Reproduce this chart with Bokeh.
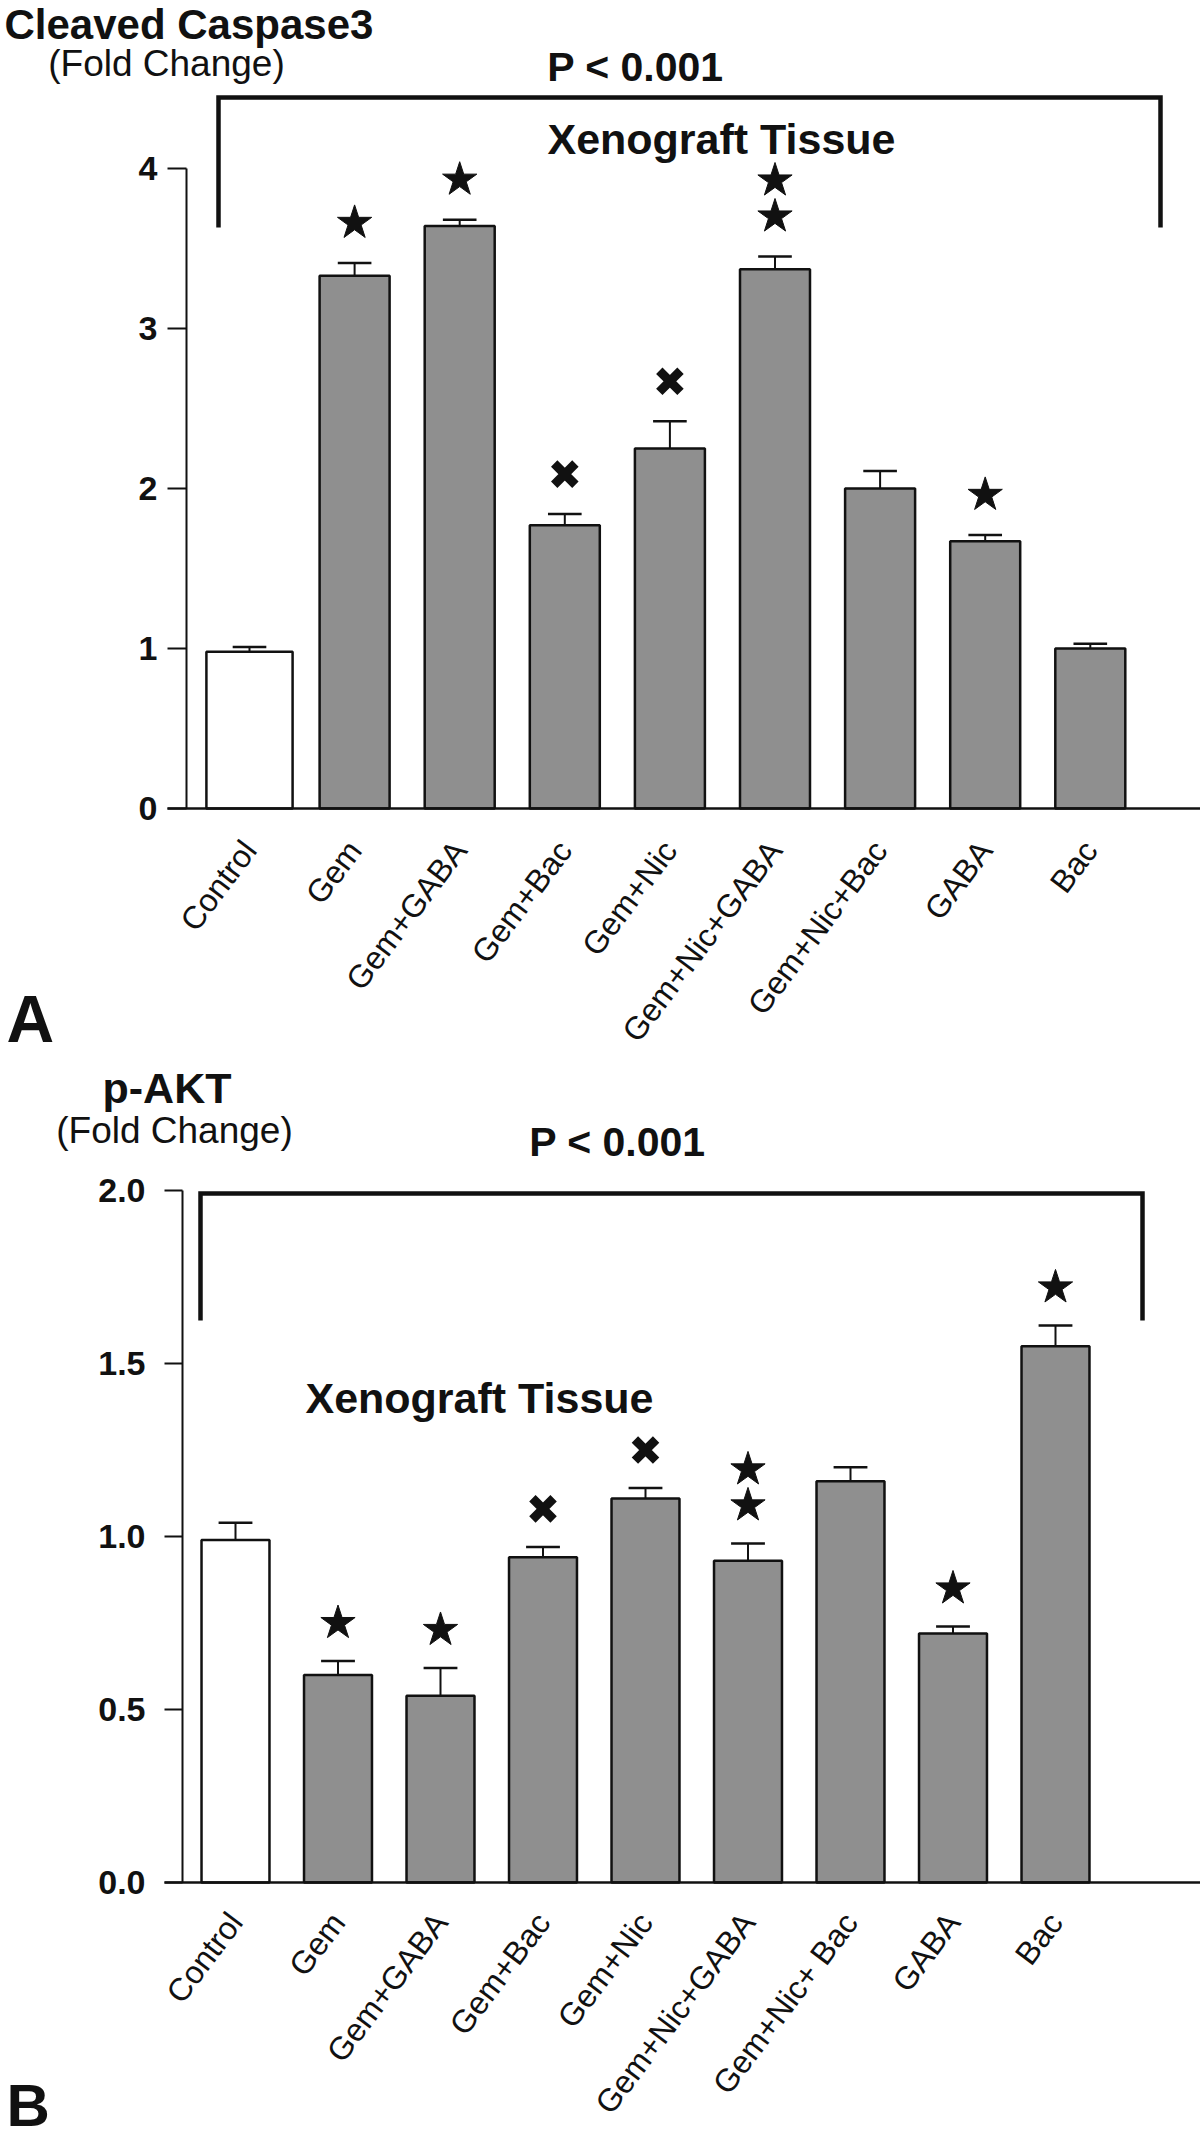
from bokeh.plotting import figure
from bokeh.models import Range1d, FixedTicker, Label, ColumnDataSource, PrintfTickFormatter
from bokeh.layouts import column
from bokeh.embed import file_html
from bokeh.resources import INLINE

# ---------------- data ----------------
categories_a = ["Control", "Gem", "Gem+GABA", "Gem+Bac", "Gem+Nic",
                "Gem+Nic+GABA", "Gem+Nic+Bac", "GABA", "Bac"]
categories_b = ["Control", "Gem", "Gem+GABA", "Gem+Bac", "Gem+Nic",
                "Gem+Nic+GABA", "Gem+Nic+ Bac", "GABA", "Bac"]

caspase3_mean = [0.98, 3.33, 3.64, 1.77, 2.25, 3.37, 2.00, 1.67, 1.00]
caspase3_err = [0.03, 0.08, 0.04, 0.07, 0.17, 0.08, 0.11, 0.04, 0.03]
caspase3_marks = ["", "star", "star", "cross", "cross", "star2", "", "star", ""]

pakt_mean = [0.99, 0.60, 0.54, 0.94, 1.11, 0.93, 1.16, 0.72, 1.55]
pakt_err = [0.05, 0.04, 0.08, 0.03, 0.03, 0.05, 0.04, 0.02, 0.06]
pakt_marks = ["", "star", "star", "cross", "cross", "star2", "", "star", "star"]

yticks_a = [0, 1, 2, 3, 4]
yticks_b = [0.0, 0.5, 1.0, 1.5, 2.0]

# ---------------- style ----------------
FONT = "Liberation Sans"
GRAY = "#8f8f8f"
INK = "#111111"
W = 1200
TEXT_SHIFT = 0.32   # empirical correction of the label baseline (in em)


def make_panel(cats, means, errs, marks, yticks, fmt, g, texts):
    H = g["H"]
    fl, fb, c0 = g["fl"], g["fb"], g["c0"]
    ppx, ppy = g["ppx"], g["ppy"]
    top_page = g["top"]

    def dx(page_x):
        return (page_x - c0) / ppx

    def dy(page_y):
        return (fb - (page_y - top_page)) / ppy

    x_start, x_end = -c0 / ppx, (W - c0) / ppx
    y_start, y_end = (fb - H) / ppy, fb / ppy

    p = figure(width=W, height=H, x_range=Range1d(x_start, x_end),
               y_range=Range1d(y_start, y_end), output_backend="svg",
               toolbar_location=None, min_border=0, min_border_left=0,
               min_border_right=0, min_border_top=0, min_border_bottom=0)
    p.outline_line_color = None
    p.xgrid.visible = False
    p.ygrid.visible = False
    p.background_fill_color = "white"
    p.border_fill_color = "white"

    idx = list(range(len(cats)))
    widths = [g["ctrl_w"] if i == 0 else g["bar_w"] for i in idx]
    fills = ["white" if i == 0 else GRAY for i in idx]
    tops = [m + e for m, e in zip(means, errs)]
    src = ColumnDataSource(dict(x=idx, top=means, w=widths, fill=fills,
                                err=tops,
                                cl=[i - g["cap"] / 2 for i in idx],
                                cr=[i + g["cap"] / 2 for i in idx]))

    p.segment(x0="x", y0="top", x1="x", y1="err", source=src,
              line_color=INK, line_width=2)
    p.segment(x0="cl", y0="err", x1="cr", y1="err", source=src,
              line_color=INK, line_width=2.5)
    p.vbar(x="x", top="top", width="w", bottom=0, source=src,
           fill_color="fill", line_color=INK, line_width=2.5)

    # significance markers
    off = g["mark_off"] / ppy
    step = 36 / ppy
    sx, sy, cx, cy = [], [], [], []
    for i, (mk, t) in enumerate(zip(marks, tops)):
        if mk == "star":
            sx.append(i); sy.append(t + off)
        elif mk == "star2":
            sx += [i, i]; sy += [t + off, t + off + step]
        elif mk == "cross":
            cx.append(i); cy.append(t + off)
    p.scatter(sx, sy, marker="star", size=36, fill_color=INK, line_color=INK)
    p.scatter(cx, cy, marker="x", size=30, line_color=INK, line_width=9)

    # bracket
    bx0, bx1 = dx(g["br_l"]), dx(g["br_r"])
    by0, by1 = dy(g["br_top"]), dy(g["br_bot"])
    p.line([bx0, bx0, bx1, bx1], [by1, by0, by0, by1], line_color=INK,
           line_width=4.5, line_join="miter")

    # x axis (fixed at y = 0)
    p.xaxis.fixed_location = 0
    p.xaxis.bounds = (dx(g["base_l"]), x_end)
    p.xaxis.ticker = FixedTicker(ticks=idx)
    p.xaxis.major_label_overrides = {i: c for i, c in enumerate(cats)}
    p.xaxis.major_label_orientation = g["angle"]
    p.xaxis.major_tick_line_color = None
    p.xaxis.minor_tick_line_color = None
    p.xaxis.axis_line_width = 2.5
    p.xaxis.axis_line_color = INK
    p.xaxis.major_label_text_font = FONT
    p.xaxis.major_label_text_font_size = g["cat_fs"]
    p.xaxis.major_label_text_color = INK
    p.xaxis.major_label_standoff = g["cat_standoff"]

    # y axis
    p.yaxis.fixed_location = dx(fl)
    p.yaxis.ticker = FixedTicker(ticks=yticks)
    p.yaxis.formatter = PrintfTickFormatter(format=fmt)
    p.yaxis.bounds = (yticks[0], yticks[-1])
    p.yaxis.major_tick_out = g["tick_out"]
    p.yaxis.major_tick_in = 0
    p.yaxis.minor_tick_line_color = None
    p.yaxis.axis_line_width = 2
    p.yaxis.major_tick_line_width = 2
    p.yaxis.axis_line_color = INK
    p.yaxis.major_tick_line_color = INK
    p.yaxis.major_label_text_font = FONT
    p.yaxis.major_label_text_font_style = "bold"
    p.yaxis.major_label_text_font_size = "34px"
    p.yaxis.major_label_text_color = INK
    p.yaxis.major_label_standoff = g["ystandoff"]

    for (txt, px, py, fs, style, align) in texts:
        p.add_layout(Label(x=dx(px), y=dy(py - TEXT_SHIFT * fs), text=txt,
                           text_font=FONT, text_font_size=f"{fs}px",
                           text_font_style=style, text_align=align,
                           text_baseline="alphabetic", text_color=INK))
    return p


HA = 1063
geom_a = dict(H=HA, top=0, fl=186, fb=808, c0=249, ppx=105.1, ppy=160.0,
              bar_w=0.666, ctrl_w=0.82, cap=0.32, mark_off=40,
              br_l=218, br_r=1160, br_top=97, br_bot=227, base_l=167,
              angle=0.925, cat_fs="32px", cat_standoff=30, tick_out=19,
              ystandoff=10)
texts_a = [
    ("Cleaved Caspase3", 4, 37, 42, "bold", "left"),
    ("(Fold Change)", 166, 75, 37, "normal", "center"),
    ("P < 0.001", 635, 80, 41, "bold", "center"),
    ("Xenograft Tissue", 721, 152, 43, "bold", "center"),
    ("A", 6, 1040, 66, "bold", "left"),
]

HB = 2147 - HA
geom_b = dict(H=HB, top=HA, fl=182, fb=1882 - HA, c0=235,
              ppx=102.5, ppy=346.0, bar_w=0.663, ctrl_w=0.663, cap=0.33,
              mark_off=38, br_l=200, br_r=1142, br_top=1193, br_bot=1320,
              base_l=164, angle=0.925, cat_fs="32px", cat_standoff=28,
              tick_out=18, ystandoff=19)
texts_b = [
    ("p-AKT", 102, 1101, 43, "bold", "left"),
    ("(Fold Change)", 174, 1142, 37, "normal", "center"),
    ("P < 0.001", 617, 1155, 41, "bold", "center"),
    ("Xenograft Tissue", 479, 1411, 43, "bold", "center"),
    ("B", 6, 2124, 60, "bold", "left"),
]

pa = make_panel(categories_a, caspase3_mean, caspase3_err, caspase3_marks,
                yticks_a, "%d", geom_a, texts_a)
pb = make_panel(categories_b, pakt_mean, pakt_err, pakt_marks,
                yticks_b, "%.1f", geom_b, texts_b)

layout = column(pa, pb, spacing=0)
open("out.html", "w").write(file_html(layout, INLINE))
